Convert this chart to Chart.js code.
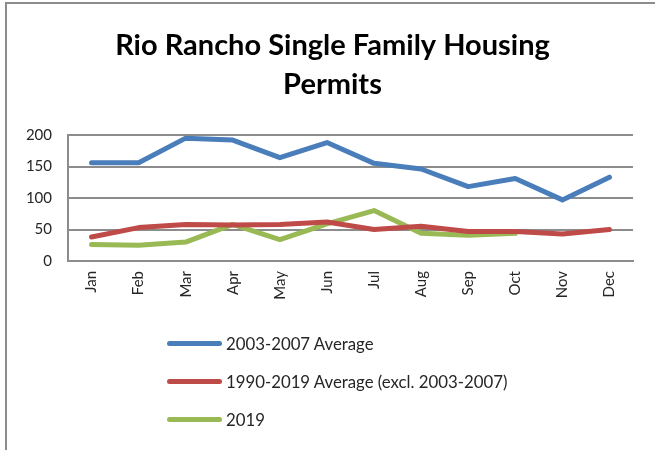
<!DOCTYPE html>
<html>
<head>
<meta charset="utf-8">
<title>Rio Rancho Single Family Housing Permits</title>
<script src="https://cdn.jsdelivr.net/npm/chart.js@4.4.1/dist/chart.umd.min.js"></script>
<style>
  html, body { margin: 0; padding: 0; background: #fff; overflow: hidden; }
  #frame {
    position: absolute; left: 5px; top: 2px; width: 700px; height: 500px;
    border-left: 2px solid #8c8c8c; border-top: 2px solid #8c8c8c;
  }
  #chart { position: absolute; left: 0; top: 0; }
  #legend {
    position: absolute; left: 167px; top: 324px;
    font-family: Lato, "Open Sans", sans-serif; font-size: 16.8px; color: #262626;
  }
  .item { display: flex; align-items: center; height: 38px; }
  .swatch { display: inline-block; width: 55px; height: 5px; border-radius: 3px; margin-right: 4px; }
</style>
</head>
<body>
<div id="frame"></div>
<canvas id="chart" width="655" height="450"></canvas>
<div id="legend"></div>
<script>
// values
const months = ['Jan', 'Feb', 'Mar', 'Apr', 'May', 'Jun', 'Jul', 'Aug', 'Sep', 'Oct', 'Nov', 'Dec'];
const avg2003to2007 = [156, 156, 195, 192, 164, 188, 155, 146, 118, 131, 97, 133];
const avg1990to2019 = [38, 53, 58, 57, 58, 62, 50, 55, 47, 47, 43, 50];
const year2019 = [26, 25, 30, 58, 34, 59, 80, 44, 41, 44];
const seriesNames = ['2003-2007 Average', '1990-2019 Average (excl. 2003-2007)', '2019'];
const seriesColors = ['#4a7ebb', '#be4b48', '#98b954'];
const yTicks = [0, 50, 100, 150, 200];
const titleLines = ['Rio Rancho Single Family Housing', 'Permits'];

const font = 'Lato, "Open Sans", sans-serif';
const gridColor = '#8c8c8c';

function line(i, data) {
  return {
    label: seriesNames[i],
    data: data,
    borderColor: seriesColors[i],
    backgroundColor: seriesColors[i],
    borderWidth: 5,
    borderCapStyle: 'round',
    borderJoinStyle: 'round',
    pointRadius: 0,
    tension: 0,
    fill: false
  };
}

const chart = new Chart(document.getElementById('chart').getContext('2d'), {
  type: 'line',
  data: {
    labels: months,
    datasets: [line(0, avg2003to2007), line(1, avg1990to2019), line(2, year2019)]
  },
  options: {
    responsive: false,
    animation: false,
    devicePixelRatio: 1,
    layout: { padding: { left: 10, right: 0, top: 0, bottom: 139 } },
    plugins: {
      legend: { display: false },
      tooltip: { enabled: false },
      title: {
        display: true,
        text: titleLines,
        color: '#000',
        font: { family: font, size: 29, weight: 'bold', lineHeight: 39 / 29 },
        padding: { top: 26.5, bottom: 30.5 }
      }
    },
    scales: {
      x: {
        offset: true,
        grid: { display: false, drawTicks: false },
        border: { display: true, color: gridColor, width: 2 },
        ticks: {
          minRotation: 90, maxRotation: 90, padding: 10,
          color: '#262626', font: { family: font, size: 15 }
        },
        afterFit: s => { s.height = 50; }
      },
      y: {
        min: 0, max: 200,
        afterBuildTicks: s => { s.ticks = yTicks.map(v => ({ value: v })); },
        grid: { color: gridColor, lineWidth: 2, drawTicks: false },
        border: { display: true, color: gridColor, width: 2 },
        ticks: { padding: 16, color: '#262626', font: { family: font, size: 15 } },
        afterFit: s => { s.width = 58; }
      },
      // empty spacer on the right so the plot ends where the reference does
      spacer: {
        type: 'linear', position: 'right', min: 0, max: 200,
        grid: { display: false, drawTicks: false },
        border: { display: false },
        ticks: { display: false },
        afterFit: s => { s.width = 22; }
      }
    }
  }
});

// legend as a vertical list under the plot
const legend = document.getElementById('legend');
chart.data.datasets.forEach(ds => {
  const row = document.createElement('div');
  row.className = 'item';
  const sw = document.createElement('span');
  sw.className = 'swatch';
  sw.style.background = ds.borderColor;
  row.appendChild(sw);
  row.appendChild(document.createTextNode(ds.label));
  legend.appendChild(row);
});
</script>
</body>
</html>
